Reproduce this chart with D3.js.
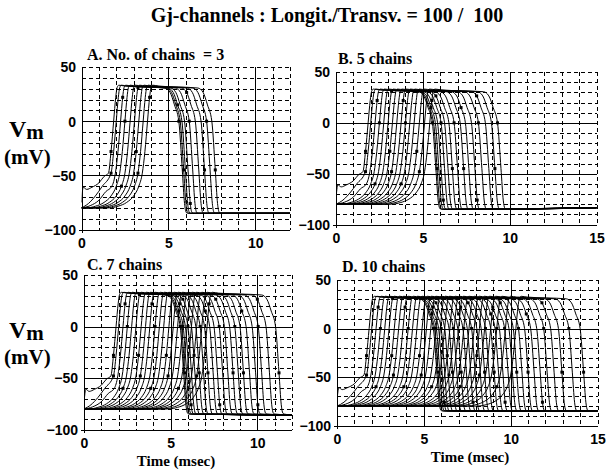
<!DOCTYPE html>
<html><head><meta charset="utf-8">
<script src="https://cdn.jsdelivr.net/npm/d3@7"></script>
<style>
body{margin:0;background:#fff}
svg{display:block}
text{white-space:pre}
.serif{font-family:"Liberation Serif","Times New Roman",serif;font-weight:bold}
.tick{font-family:"Liberation Sans",Arial,sans-serif;font-weight:bold;font-size:14px}
</style>
</head><body>
<svg id="chart" width="611" height="474"></svg>
<script>
// ---------------- data ----------------
const chartTitle = "Gj-channels : Longit./Transv. = 100 /  100";
const panelTitles = ["A. No. of chains  = 3", "B. 5 chains", "C. 7 chains", "D. 10 chains"];
const xMaxes = [12, 15, 12, 15];
const xTickValues = [[0, 5, 10], [0, 5, 10, 15], [0, 5, 10], [0, 5, 10, 15]];
const yTickValues = [50, 0, -50, -100];
const xLabel = "Time (msec)";

// upstroke (0 mV crossing) times, ms
const upsA = [1.85, 2.0, 2.25, 2.5, 2.8, 3.05, 3.3, 3.55, 3.8];
const upsB = [1.85, 2.0, 2.25, 2.5, 2.75, 3.0, 3.25, 3.5, 3.75, 4.0, 4.25, 4.5, 4.8, 5.1, 5.4];
const upsC = [1.85, 2.0, 2.25, 2.5, 2.75, 3.0, 3.3, 3.55, 3.8, 4.1, 4.35, 4.6, 4.9, 5.15, 5.4, 5.7, 5.95, 6.2, 6.5, 6.8, 7.1];
const upsD = [1.85, 2.0, 2.25, 2.5, 2.75, 3.0, 3.3, 3.55, 3.8, 4.1, 4.35, 4.6, 4.9, 5.15, 5.4, 5.7, 5.95, 6.2, 6.5, 6.75, 7.0, 7.3, 7.6, 7.9, 8.2, 8.5, 8.85, 9.2, 9.7, 10.3];
// repolarisation (0 mV crossing) times, ms
const downsA = [5.6, 5.68, 5.78, 5.93, 6.2, 6.55, 6.88, 7.2, 7.5];
const downsB = [5.55, 5.62, 5.72, 5.85, 6.05, 6.25, 6.5, 6.8, 7.15, 7.45, 7.8, 8.2, 8.6, 8.95, 9.3];
const downsC = [5.55, 5.62, 5.72, 5.85, 6.0, 6.2, 6.45, 6.7, 6.95, 7.25, 7.5, 7.8, 8.1, 8.4, 8.7, 9.0, 9.35, 9.7, 10.05, 10.5, 11.05];
const downsD = [5.55, 5.62, 5.72, 5.85, 6.0, 6.2, 6.45, 6.7, 6.95, 7.25, 7.5, 7.75, 8.05, 8.3, 8.55, 8.85, 9.1, 9.35, 9.65, 9.9, 10.15, 10.45, 10.8, 11.15, 11.5, 11.9, 12.3, 12.75, 13.35, 14.0];
// resting level at the right end of each panel, mV
const restEnd = [-85, -83.5, -86, -85];

// waveform shapes: [ms relative to crossing, mV]
const upShape = [[-2.2, -80], [-1.7, -78.5], [-1.2, -75], [-0.8, -69], [-0.5, -60], [-0.3, -48], [-0.15, -28], [0, 0], [0.12, 22], [0.2, 31], [0.3, 33.2]];
const plateauShape = [[0.65, 32.4]];
const downShape = [[-0.8, 30.6], [-0.5, 26.5], [-0.25, 15], [0, 0], [0.2, -45], [0.33, -76], [0.42, -84], [0.5, -85]];
// the first recorded cells (near the stimulus) at the start of every panel
const earlyFeet = [
  [[0, -75], [0.1, -61], [0.3, -63], [0.6, -61], [1.0, -57], [1.3, -51]],
  [[0, -80], [0.4, -76], [0.8, -69], [1.2, -60]],
  [[0, -80], [0.5, -78], [1.0, -73], [1.4, -65]]
];
// which shape point carries the small data marker (cycled over the traces)
const markerUp = [6, 5, 8, 7, 4, 9];
const markerDown = [3, 4, 2, 5, 3, 1, 4];

const upsAll = [upsA, upsB, upsC, upsD];
const downsAll = [downsA, downsB, downsC, downsD];

// ---------------- layout ----------------
const boxes = [
  {l: 81.5, r: 290, t: 67, b: 229.5},
  {l: 336, r: 596.5, t: 72, b: 224.5},
  {l: 84, r: 292, t: 275, b: 429.5},
  {l: 337, r: 597.5, t: 280, b: 425.5}
];
const titlePos = [[87, 60], [338, 64], [87, 270], [342, 272]];

const svg = d3.select("#chart");

svg.append("text").attr("class", "serif").attr("x", 327).attr("y", 22)
  .attr("text-anchor", "middle").attr("font-size", 20).text(chartTitle);

// Vm labels
[[137, 164], [338, 364]].forEach(([y1, y2]) => {
  const t = svg.append("text").attr("class", "serif").attr("x", 9).attr("y", y1).attr("font-size", 24);
  t.append("tspan").text("V");
  t.append("tspan").attr("dy", 2).attr("font-size", 21).text("m");
  svg.append("text").attr("class", "serif").attr("x", 4).attr("y", y2).attr("font-size", 21).text("(mV)");
});

function buildTrace(i, up, down, xMax, rEnd) {
  let pts;
  const foot = earlyFeet[i];
  if (foot) pts = foot.map(d => d.slice());
  else pts = [[0, -80]];
  for (const [dt, v] of upShape) {
    const t = up + dt;
    const last = pts[pts.length - 1];
    if (t <= last[0] + 0.02) continue;
    if (foot && v <= last[1]) continue;
    pts.push([t, v]);
  }
  for (const [dt, v] of plateauShape) pts.push([up + dt, v]);
  for (const [dt, v] of downShape) {
    const t = down + dt;
    if (t <= pts[pts.length - 1][0] + 0.02) continue;
    pts.push([t, v]);
  }
  if (xMax > pts[pts.length - 1][0]) pts.push([xMax, rEnd]);
  return pts;
}

boxes.forEach((bx, p) => {
  const xMax = xMaxes[p];
  const x = d3.scaleLinear().domain([0, xMax]).range([bx.l, bx.r]);
  const y = d3.scaleLinear().domain([-100, 50]).range([bx.b, bx.t]);
  const g = svg.append("g");

  // grid
  const grid = g.append("g").attr("shape-rendering", "crispEdges");
  d3.range(-90, 51, 10).forEach(v => {
    const major = (v === 0 || v === -50);
    grid.append("line").attr("x1", bx.l).attr("x2", bx.r).attr("y1", Math.round(y(v)) + 0.5).attr("y2", Math.round(y(v)) + 0.5)
      .attr("stroke", "#000").attr("stroke-width", 1).attr("stroke-dasharray", major ? null : "4,3");
  });
  d3.range(1, xMax + 1, 1).forEach(t => {
    const major = (t % 5 === 0 && t !== xMax);
    grid.append("line").attr("y1", bx.t).attr("y2", bx.b).attr("x1", Math.round(x(t)) + 0.5).attr("x2", Math.round(x(t)) + 0.5)
      .attr("stroke", "#000").attr("stroke-width", 1).attr("stroke-dasharray", major ? null : "4,3");
  });

  // traces
  const clipId = "clip" + p;
  svg.append("clipPath").attr("id", clipId).append("rect")
    .attr("x", bx.l).attr("y", bx.t - 1).attr("width", bx.r - bx.l + 1).attr("height", bx.b - bx.t + 1);
  const line = d3.line().x(d => x(d[0])).y(d => y(d[1])).curve(d3.curveMonotoneX);
  const ups = upsAll[p], downs = downsAll[p];
  const tg = g.append("g").attr("clip-path", `url(#${clipId})`);
  ups.forEach((u, i) => {
    const pts = buildTrace(i, u, downs[i], xMax, restEnd[p]);
    tg.append("path").attr("d", line(pts))
      .attr("fill", "none").attr("stroke", "#000").attr("stroke-width", 1);
    // small data markers, as in the reference
    const su = upShape[markerUp[i % markerUp.length]];
    const sd = downShape[markerDown[i % markerDown.length]];
    [[u + su[0], su[1]], [downs[i] + sd[0], sd[1]]].forEach(mk => {
      tg.append("rect").attr("x", x(mk[0]) - 1.5).attr("y", y(mk[1]) - 1.5)
        .attr("width", 3).attr("height", 3).attr("fill", "#000");
    });
  });

  // axes
  const yAxis = d3.axisLeft(y).tickValues(yTickValues).tickSize(0).tickPadding(6).tickFormat(d3.format("d"));
  const xAxis = d3.axisBottom(x).tickValues(xTickValues[p]).tickSize(0).tickPadding(5).tickFormat(d3.format("d"));
  const ya = g.append("g").attr("transform", `translate(${Math.round(bx.l)},0)`).call(yAxis);
  const xa = g.append("g").attr("transform", `translate(0,${Math.round(bx.b)})`).call(xAxis);
  [ya, xa].forEach(a => {
    a.select(".domain").remove();
    a.selectAll("text").attr("class", "tick").attr("fill", "#000");
  });
  xa.selectAll("text").attr("dy", "0.9em");
  ya.selectAll("text").attr("dy", "0.35em");
  const ax = g.append("g").attr("shape-rendering", "crispEdges");
  ax.append("line").attr("x1", Math.round(bx.l) + 0.5).attr("x2", Math.round(bx.l) + 0.5).attr("y1", bx.t).attr("y2", bx.b + 3).attr("stroke", "#000");
  ax.append("line").attr("x1", bx.l - 3).attr("x2", bx.r).attr("y1", Math.round(bx.b) + 0.5).attr("y2", Math.round(bx.b) + 0.5).attr("stroke", "#000");

  // panel title
  svg.append("text").attr("class", "serif").attr("x", titlePos[p][0]).attr("y", titlePos[p][1])
    .attr("font-size", 16).text(panelTitles[p]);
});

svg.append("text").attr("class", "serif").attr("x", 176).attr("y", 466).attr("text-anchor", "middle").attr("font-size", 15).text(xLabel);
svg.append("text").attr("class", "serif").attr("x", 470).attr("y", 462).attr("text-anchor", "middle").attr("font-size", 15).text(xLabel);
</script>
</body></html>
